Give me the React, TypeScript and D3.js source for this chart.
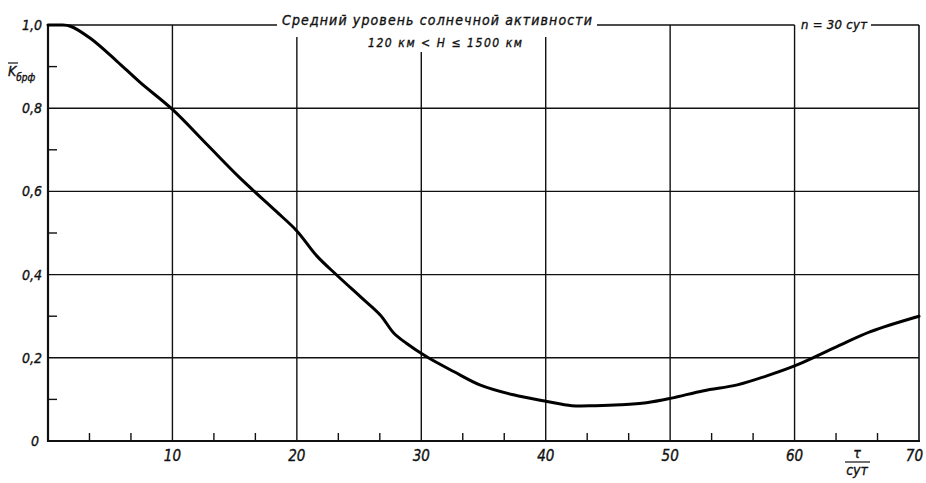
import React from 'react';
import * as d3 from 'd3';

// Data
const tauDays = [0, 1, 1.8, 3.4, 5.5, 7.4, 10, 12.8, 15.4, 18.3, 20.0, 21.6, 23.2, 25.1, 26.7, 27.8, 28.8, 30.4, 32.6, 34.7, 37.4, 40.1, 42.1, 44, 46, 48.1, 50.1, 52.7, 55.4, 58.0, 60.2, 63.4, 66.1, 70];
const kValues = [1.0, 1.0, 0.997, 0.968, 0.914, 0.862, 0.797, 0.712, 0.633, 0.553, 0.505, 0.445, 0.399, 0.347, 0.303, 0.259, 0.235, 0.203, 0.167, 0.135, 0.111, 0.095, 0.085, 0.085, 0.087, 0.092, 0.103, 0.121, 0.135, 0.159, 0.183, 0.227, 0.263, 0.30];

const xTickValues = [10, 20, 30, 40, 50, 60, 70];
const xTickLabels = ['10', '20', '30', '40', '50', '60', '70'];
const yTickValues = [0, 0.2, 0.4, 0.6, 0.8, 1.0];
const yTickLabels = ['0', '0,2', '0,4', '0,6', '0,8', '1,0'];
const yMinor = [0.1, 0.3, 0.5, 0.7, 0.9];

const titleLine1 = 'Средний уровень солнечной активности';
const titleLine2 = '120 км < H ≤ 1500 км';
const paramText = 'n = 30 сут';

const FONT = '"DejaVu Sans Condensed", "DejaVu Sans", sans-serif';
const INK = '#111';

export default function App() {
  const W = 926, H = 483;
  const x = d3.scaleLinear().domain([0, 70]).range([48, 919]);
  const y = d3.scaleLinear().domain([0, 1]).range([441, 25]);

  const pts = tauDays.map((t, i) => [t, kValues[i]] as [number, number]);
  const line = d3.line<[number, number]>()
    .x(d => x(d[0]))
    .y(d => y(d[1]))
    .curve(d3.curveCatmullRom.alpha(0.5));

  const gridTop: Record<number, number> = { 20: 37, 30: 52, 40: 37 };

  const xMinor: number[] = [];
  for (let d = 0; d < 70; d += 10) {
    xMinor.push(d + 10 / 3, d + 20 / 3);
  }

  const x0 = x(0), x70 = x(70), yTop = y(1), yBot = y(0);
  const textStroke = { stroke: INK, strokeWidth: 0.35 };

  return (
    <svg width={W} height={H} style={{ position: 'absolute', left: 0, top: 0, background: '#fff' }}
      fontFamily={FONT} fontStyle="italic">
      <rect x={0} y={0} width={W} height={H} fill="#fff" />
      {/* horizontal grid */}
      {yTickValues.filter(v => v > 0 && v < 1).map(v => (
        <line key={'hy' + v} x1={x0} x2={x70} y1={y(v)} y2={y(v)} stroke={INK} strokeWidth={1.4} />
      ))}
      {/* vertical grid */}
      {xTickValues.filter(v => v < 70).map(v => (
        <line key={'vx' + v} x1={x(v)} x2={x(v)} y1={gridTop[v] ?? yTop} y2={yBot} stroke={INK} strokeWidth={1.4} />
      ))}
      {/* top border with gaps for text */}
      <line x1={x0} x2={277} y1={yTop} y2={yTop} stroke={INK} strokeWidth={1.5} />
      <line x1={597} x2={x(60)} y1={yTop} y2={yTop} stroke={INK} strokeWidth={1.5} />
      <line x1={871} x2={x70} y1={yTop} y2={yTop} stroke={INK} strokeWidth={1.5} />
      {/* right border */}
      <line x1={x70} x2={x70} y1={yTop} y2={yBot} stroke={INK} strokeWidth={1.6} />
      {/* left & bottom axes */}
      <line x1={x0} x2={x0} y1={yTop - 1} y2={yBot + 1} stroke={INK} strokeWidth={2.2} />
      <line x1={x0 - 1} x2={x70 + 1} y1={yBot} y2={yBot} stroke={INK} strokeWidth={2.2} />
      {/* minor ticks */}
      {yMinor.map(v => (
        <line key={'my' + v} x1={x0} x2={x0 + 9} y1={y(v)} y2={y(v)} stroke={INK} strokeWidth={1.4} />
      ))}
      {xMinor.map(v => (
        <line key={'mx' + v} x1={x(v)} x2={x(v)} y1={yBot} y2={yBot - 8} stroke={INK} strokeWidth={1.4} />
      ))}
      {/* curve */}
      <path d={line(pts) || ''} fill="none" stroke="#000" strokeWidth={3} strokeLinejoin="round" strokeLinecap="round" />
      {/* y labels */}
      {yTickValues.map((v, i) => (
        <text key={'yl' + v} x={v === 0 ? 39 : 42} y={y(v) + 5} textAnchor="end" fontSize={14} fill={INK} {...textStroke}>{yTickLabels[i]}</text>
      ))}
      {/* x labels */}
      {xTickValues.map((v, i) => (
        <text key={'xl' + v} x={v === 70 ? 923 : x(v)} y={461} textAnchor={v === 70 ? 'end' : 'middle'} fontSize={15} fill={INK} {...textStroke}>{xTickLabels[i]}</text>
      ))}
      {/* y-axis symbol */}
      <text x={8} y={76} fontSize={14} fill={INK} {...textStroke}>K<tspan fontSize={10} dy={5}>брф</tspan></text>
      <line x1={8} x2={18} y1={63} y2={63} stroke={INK} strokeWidth={1.2} />
      {/* x-axis unit */}
      <text x={857} y={458} textAnchor="middle" fontSize={14} fill={INK} {...textStroke}>τ</text>
      <line x1={845} x2={870} y1={462} y2={462} stroke={INK} strokeWidth={1.2} />
      <text x={857} y={475} textAnchor="middle" fontSize={14} fill={INK} {...textStroke}>сут</text>
      {/* titles */}
      <text x={282} y={25} fontSize={14} fill={INK} textLength={310} lengthAdjust="spacing" {...textStroke}>{titleLine1}</text>
      <text x={445} y={47} textAnchor="middle" fontSize={12} fill={INK} textLength={154} lengthAdjust="spacing" {...textStroke}>{titleLine2}</text>
      <text x={801} y={29} fontSize={13} fill={INK} textLength={66} lengthAdjust="spacing" {...textStroke}>{paramText}</text>
    </svg>
  );
}
